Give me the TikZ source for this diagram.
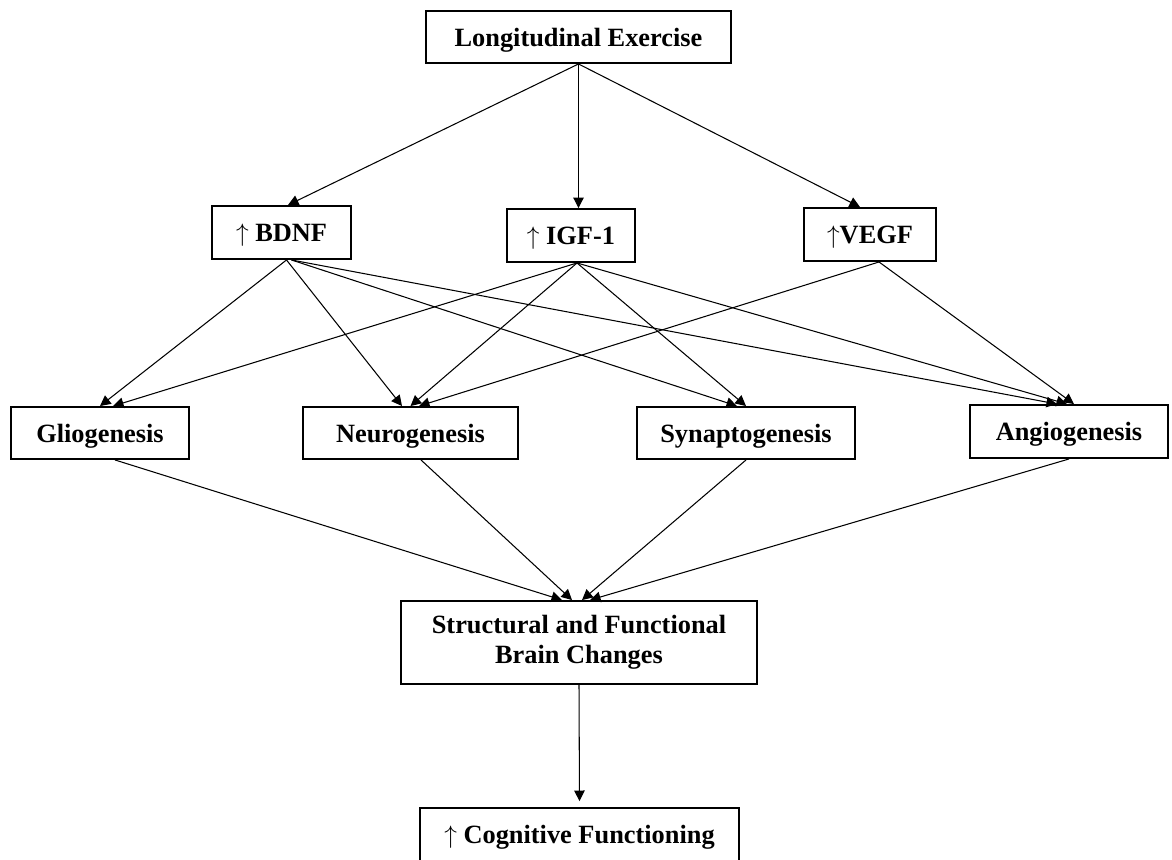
\documentclass[tikz,border=0pt]{standalone}
\usepackage{fontspec}
\setmainfont{Liberation Serif}
\usepackage{tikz}
\usetikzlibrary{arrows.meta}

\tikzset{
    frame/.style={draw,line width=1.1pt,minimum height=1.06cm,inner sep=0pt,
        font=\fontsize{15}{17}\selectfont\bfseries},
    box/.style={frame,text height=12pt,text depth=1.5pt},
    link/.style={line width=0.6pt,-{Triangle[length=6pt,width=6pt]}}
}

\begin{document}
\begin{tikzpicture}[x=0.02cm,y=-0.02cm]
        \useasboundingbox (0,0) rectangle (1172,859);

        %%% TOP %%%
        \node[box,minimum width=6.1cm,minimum height=1.04cm] (exercise) at (578.5,37) {Longitudinal Exercise};

        %%% GROWTH FACTORS %%%
        \node[box,minimum width=2.78cm] (bdnf) at (281.5,232.5) {$\uparrow$ BDNF};
        \node[box,minimum width=2.56cm] (igf) at (571,235.5) {$\uparrow$ IGF-1};
        \node[box,minimum width=2.64cm] (vegf) at (870,234.5) {$\uparrow$VEGF};

        %%% PROCESSES %%%
        \node[box,minimum width=3.56cm,minimum height=1.04cm] (glio) at (100,433) {Gliogenesis};
        \node[box,minimum width=4.3cm,minimum height=1.04cm] (neuro) at (410.5,433) {Neurogenesis};
        \node[box,minimum width=4.36cm,minimum height=1.04cm] (synapto) at (746,433) {Synaptogenesis};
        \node[box,minimum width=3.96cm] (angio) at (1069,431.5) {Angiogenesis};

        %%% OUTCOMES %%%
        \node[frame,minimum width=7.12cm,minimum height=1.66cm,align=center] (brain) at (579,642.5) {Structural and Functional\\Brain Changes};
        \node[box,minimum width=6.38cm] (cognition) at (579.5,834.5) {$\uparrow$ Cognitive Functioning};

        %%% EXERCISE LINKS %%%
        \draw[link] (exercise.south) -- ([xshift=0.13cm]bdnf.north);
        \draw[link] (exercise.south) -- (exercise.south |- igf.north);
        \draw[link] (exercise.south) -- ([xshift=-0.2cm]vegf.north);

        %%% BDNF LINKS %%%
        \draw[link] ([xshift=0.1cm]bdnf.south) -- (glio.north);
        \draw[link] ([xshift=0.1cm]bdnf.south) -- ([xshift=-0.17cm]neuro.north);
        \draw[link] ([xshift=0.2cm]bdnf.south) -- ([xshift=-0.18cm]synapto.north);
        \draw[link] ([xshift=0.2cm]bdnf.south) -- ([xshift=-0.24cm]angio.north);

        %%% IGF-1 LINKS %%%
        \draw[link] ([xshift=0.12cm]igf.south) -- ([xshift=0.26cm]glio.north);
        \draw[link] ([xshift=0.12cm]igf.south) -- (neuro.north);
        \draw[link] ([xshift=0.12cm]igf.south) -- (synapto.north);
        \draw[link] ([xshift=0.12cm]igf.south) -- ([xshift=-0.04cm]angio.north);

        %%% VEGF LINKS %%%
        \draw[link] ([xshift=0.18cm]vegf.south) -- ([xshift=0.17cm]neuro.north);
        \draw[link] ([xshift=0.18cm]vegf.south) -- ([xshift=0.1cm]angio.north);

        %%% BRAIN LINKS %%%
        \draw[link] ([xshift=0.3cm]glio.south) -- ([xshift=-0.34cm]brain.north);
        \draw[link] ([xshift=0.21cm]neuro.south) -- ([xshift=-0.14cm]brain.north);
        \draw[link] (synapto.south) -- ([xshift=0.06cm]brain.north);
        \draw[link] (angio.south) -- ([xshift=0.22cm]brain.north);
        \draw[link,shorten >=0.12cm] (brain.south) -- (cognition.north);
    \end{tikzpicture}
\end{document}
